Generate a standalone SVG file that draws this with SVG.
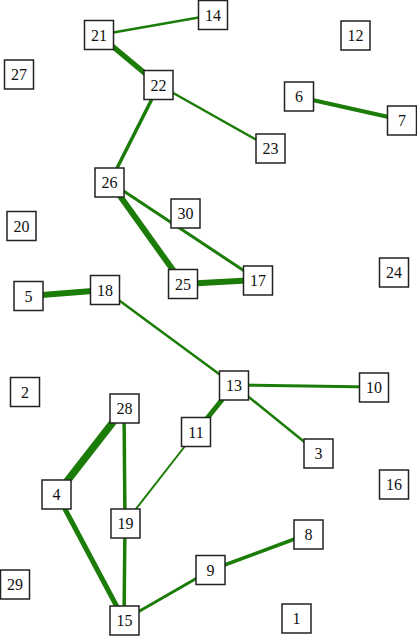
<svg xmlns="http://www.w3.org/2000/svg" width="417" height="636" viewBox="0 0 417 636">
<style>
.e{stroke:#1c7c08;fill:none;stroke-linecap:butt}
.n rect{fill:#fff;stroke:#222;stroke-width:1.5}
.n text{font-family:'Liberation Serif','Times New Roman','DejaVu Serif',serif;font-size:16px;fill:#111;text-anchor:middle}
</style>
<rect width="417" height="636" fill="#fff"/>
<g id="edges">
<line class="e" x1="99" y1="35" x2="213" y2="15" stroke-width="2.5"/>
<line class="e" x1="99" y1="35" x2="159" y2="85" stroke-width="5.5"/>
<line class="e" x1="159" y1="85" x2="271" y2="148" stroke-width="2.5"/>
<line class="e" x1="159" y1="85" x2="110" y2="182" stroke-width="3.5"/>
<line class="e" x1="299" y1="97" x2="402" y2="120" stroke-width="4"/>
<line class="e" x1="110" y1="182" x2="183" y2="284" stroke-width="6"/>
<line class="e" x1="110" y1="182" x2="258" y2="280" stroke-width="3"/>
<line class="e" x1="183" y1="284" x2="258" y2="280" stroke-width="6"/>
<line class="e" x1="29" y1="296" x2="105" y2="290" stroke-width="6"/>
<line class="e" x1="105" y1="290" x2="234" y2="385" stroke-width="2.5"/>
<line class="e" x1="234" y1="385" x2="374" y2="387" stroke-width="3"/>
<line class="e" x1="234" y1="385" x2="318" y2="453" stroke-width="2.5"/>
<line class="e" x1="234" y1="385" x2="196" y2="432" stroke-width="5"/>
<line class="e" x1="196" y1="432" x2="125" y2="523" stroke-width="2"/>
<line class="e" x1="124" y1="408" x2="57" y2="494" stroke-width="7.5"/>
<line class="e" x1="124" y1="408" x2="125" y2="523" stroke-width="3.5"/>
<line class="e" x1="57" y1="494" x2="124" y2="620" stroke-width="5"/>
<line class="e" x1="125" y1="523" x2="124" y2="620" stroke-width="3.5"/>
<line class="e" x1="124" y1="620" x2="211" y2="570" stroke-width="3"/>
<line class="e" x1="211" y1="570" x2="308" y2="534" stroke-width="3.5"/>
</g>
<g id="n1" class="n"><rect x="282" y="604" width="29" height="29"/><text x="296.5" y="624">1</text></g>
<g id="n2" class="n"><rect x="10.5" y="377.5" width="29" height="29"/><text x="25" y="397.5">2</text></g>
<g id="n3" class="n"><rect x="304" y="439" width="29" height="29"/><text x="318.5" y="459">3</text></g>
<g id="n4" class="n"><rect x="42" y="480" width="29" height="29"/><text x="56.5" y="500">4</text></g>
<g id="n5" class="n"><rect x="14" y="281.5" width="29" height="29"/><text x="28.5" y="301.5">5</text></g>
<g id="n6" class="n"><rect x="284.5" y="82" width="29" height="29"/><text x="299" y="102">6</text></g>
<g id="n7" class="n"><rect x="387.5" y="106" width="29" height="29"/><text x="402" y="126">7</text></g>
<g id="n8" class="n"><rect x="294" y="520" width="29" height="29"/><text x="308.5" y="540">8</text></g>
<g id="n9" class="n"><rect x="196" y="555.5" width="29" height="29"/><text x="210.5" y="575.5">9</text></g>
<g id="n10" class="n"><rect x="359.5" y="373" width="29" height="29"/><text x="374" y="393">10</text></g>
<g id="n11" class="n"><rect x="181.5" y="417.5" width="29" height="29"/><text x="196" y="437.5">11</text></g>
<g id="n12" class="n"><rect x="341" y="21" width="29" height="29"/><text x="355.5" y="41">12</text></g>
<g id="n13" class="n"><rect x="219.5" y="371" width="29" height="29"/><text x="234" y="391">13</text></g>
<g id="n14" class="n"><rect x="198.5" y="0.5" width="29" height="29"/><text x="213" y="20.5">14</text></g>
<g id="n15" class="n"><rect x="110" y="606" width="29" height="29"/><text x="124.5" y="626">15</text></g>
<g id="n16" class="n"><rect x="379.5" y="470" width="29" height="29"/><text x="394" y="490">16</text></g>
<g id="n17" class="n"><rect x="243.5" y="266" width="29" height="29"/><text x="258" y="286">17</text></g>
<g id="n18" class="n"><rect x="90.5" y="275.5" width="29" height="29"/><text x="105" y="295.5">18</text></g>
<g id="n19" class="n"><rect x="111" y="509" width="29" height="29"/><text x="125.5" y="529">19</text></g>
<g id="n20" class="n"><rect x="7" y="211.5" width="29" height="29"/><text x="21.5" y="231.5">20</text></g>
<g id="n21" class="n"><rect x="84.5" y="20.5" width="29" height="29"/><text x="99" y="40.5">21</text></g>
<g id="n22" class="n"><rect x="144" y="70.5" width="29" height="29"/><text x="158.5" y="90.5">22</text></g>
<g id="n23" class="n"><rect x="256" y="134" width="29" height="29"/><text x="270.5" y="154">23</text></g>
<g id="n24" class="n"><rect x="379.5" y="258" width="29" height="29"/><text x="394" y="278">24</text></g>
<g id="n25" class="n"><rect x="168.5" y="269.5" width="29" height="29"/><text x="183" y="289.5">25</text></g>
<g id="n26" class="n"><rect x="95" y="168" width="29" height="29"/><text x="109.5" y="188">26</text></g>
<g id="n27" class="n"><rect x="4.5" y="60" width="29" height="29"/><text x="19" y="80">27</text></g>
<g id="n28" class="n"><rect x="110" y="394" width="29" height="29"/><text x="124.5" y="414">28</text></g>
<g id="n29" class="n"><rect x="0.5" y="570" width="29" height="29"/><text x="15" y="590">29</text></g>
<g id="n30" class="n"><rect x="171" y="199" width="29" height="29"/><text x="185.5" y="219">30</text></g>
</svg>
